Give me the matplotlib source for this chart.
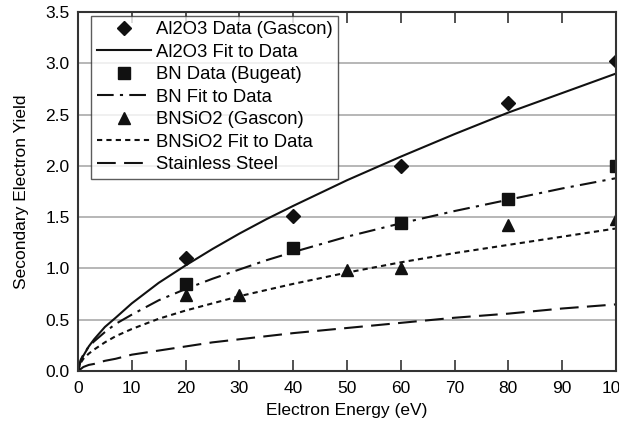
import numpy as np
import matplotlib
matplotlib.use("Agg")
import matplotlib.pyplot as plt

# measured points
al_x = [20, 40, 60, 80, 100]
al_y = [1.10, 1.51, 2.00, 2.61, 3.02]
bn_x = [20, 40, 60, 80, 100]
bn_y = [0.85, 1.20, 1.44, 1.68, 2.00]
si_x = [20, 30, 50, 60, 80, 100]
si_y = [0.74, 0.74, 0.99, 1.00, 1.42, 1.48]

# fit curves
fit_x = [0, 0.5, 1, 2, 3, 5, 7, 10, 15, 20, 25, 30, 35, 40, 50, 60, 70, 80, 90, 100]
al_fit = [0, 0.10, 0.15, 0.24, 0.31, 0.43, 0.52, 0.66, 0.86, 1.03, 1.19, 1.34,
          1.48, 1.61, 1.86, 2.09, 2.31, 2.52, 2.71, 2.90]
bn_fit = [0, 0.11, 0.16, 0.24, 0.29, 0.38, 0.46, 0.55, 0.69, 0.80, 0.90, 0.99,
          1.08, 1.16, 1.31, 1.44, 1.56, 1.67, 1.78, 1.88]
si_fit = [0, 0.08, 0.12, 0.17, 0.21, 0.28, 0.34, 0.41, 0.51, 0.59, 0.66, 0.73,
          0.79, 0.85, 0.96, 1.06, 1.15, 1.23, 1.31, 1.39]
ss_fit = [0, 0.02, 0.04, 0.06, 0.07, 0.10, 0.12, 0.16, 0.20, 0.24, 0.28, 0.31,
          0.34, 0.37, 0.42, 0.47, 0.52, 0.56, 0.61, 0.65]

plt.rcParams['font.family'] = ['Liberation Sans', 'DejaVu Sans']
ink = '#111111'
fs = 12.5

fig = plt.figure(figsize=(6.19, 4.29), dpi=100)
ax = fig.add_axes([0.126, 0.135, 0.869, 0.837])

ax.plot(al_x, al_y, 'D', color=ink, ms=7.5, ls='none', label='Al2O3 Data (Gascon)')
ax.plot(fit_x, al_fit, '-', color=ink, lw=1.5, label='Al2O3 Fit to Data')
ax.plot(bn_x, bn_y, 's', color=ink, ms=8, ls='none', label='BN Data (Bugeat)')
ax.plot(fit_x, bn_fit, color=ink, lw=1.5, dashes=(8, 3, 1.5, 3), label='BN Fit to Data')
ax.plot(si_x, si_y, '^', color=ink, ms=8.5, ls='none', label='BNSiO2 (Gascon)')
ax.plot(fit_x, si_fit, color=ink, lw=1.5, dashes=(2.5, 2), label='BNSiO2 Fit to Data')
ax.plot(fit_x, ss_fit, color=ink, lw=1.5, dashes=(9, 4), label='Stainless Steel')

ax.set_xlim(0, 100)
ax.set_ylim(0, 3.5)
ax.set_xticks(np.arange(0, 101, 10))
ax.set_yticks(np.arange(0, 3.51, 0.5))
ax.set_yticklabels([f"{v:.1f}" for v in np.arange(0, 3.51, 0.5)])
ax.yaxis.grid(True, color='#aaaaaa', lw=1.2)
ax.set_axisbelow(True)
ax.tick_params(axis='x', direction='in', length=8, width=1.2, top=True,
               labelsize=fs, pad=7, color='#333333')
ax.tick_params(axis='y', length=0, labelsize=fs, pad=6)
for s in ax.spines.values():
    s.set_linewidth(1.5)
    s.set_color('#333333')

ax.set_xlabel('Electron Energy (eV)', fontsize=fs, labelpad=5)
ax.set_ylabel('Secondary Electron Yield', fontsize=fs, labelpad=12)

leg = ax.legend(loc='upper left', bbox_to_anchor=(0.025, 0.99), fontsize=13.3,
                frameon=True, fancybox=False, edgecolor='#333333',
                handlelength=2.95, labelspacing=0.3, borderaxespad=0,
                handletextpad=0.25, borderpad=0.3)
leg.get_frame().set_linewidth(1.0)

fig.savefig('out.png', dpi=100)
